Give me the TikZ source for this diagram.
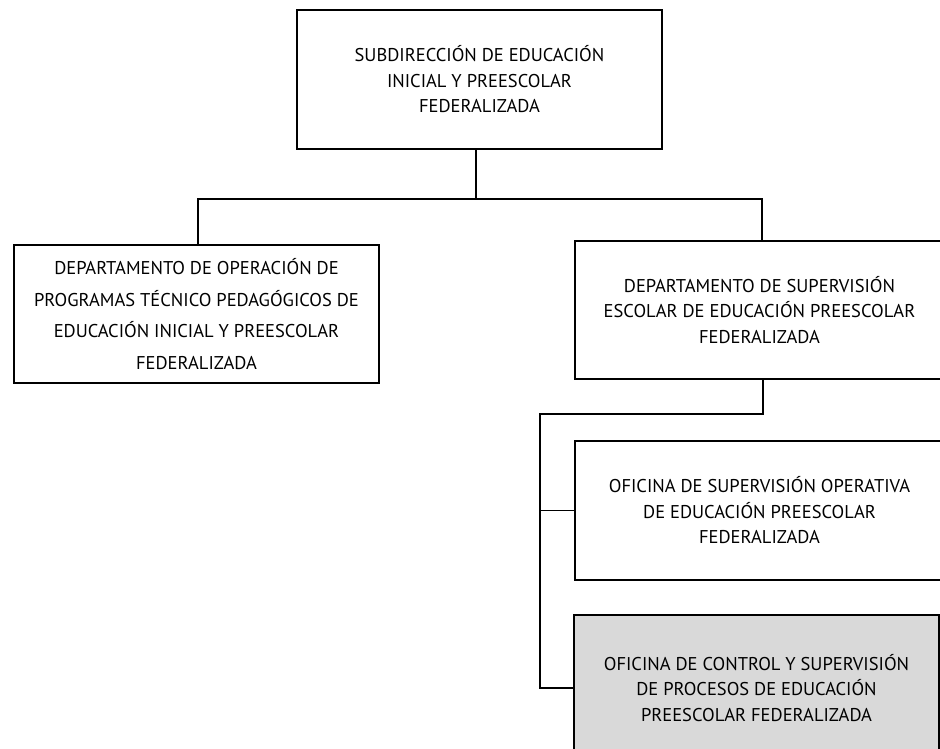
\documentclass[tikz,border=0pt]{standalone}
\usepackage{fontspec}
\setmainfont{PT Sans}
\begin{document}
\begin{tikzpicture}[x=1pt,y=-1pt,
  unit/.style={draw, line width=1.8pt, inner sep=0pt, align=center,
    font=\fontsize{18.5}{25.5}\selectfont},
  conn/.style={line width=1.8pt}]
\useasboundingbox (0,0) rectangle (940,748);
\clip (0,0) rectangle (940,748);

% Organisational units
\node[unit, minimum width=365pt, minimum height=139pt] (sub) at (479.5,79.5)
  {SUBDIRECCIÓN DE EDUCACIÓN\\INICIAL Y PREESCOLAR\\FEDERALIZADA};
\node[unit, minimum width=365pt, minimum height=138pt,
  font=\fontsize{18.5}{31.5}\selectfont] (dop) at (196.5,314)
  {DEPARTAMENTO DE OPERACIÓN DE\\PROGRAMAS TÉCNICO PEDAGÓGICOS DE\\EDUCACIÓN INICIAL Y PREESCOLAR\\FEDERALIZADA};
\node[unit, minimum width=369pt, minimum height=138pt] (dsup) at (759.5,310)
  {DEPARTAMENTO DE SUPERVISIÓN\\ESCOLAR DE EDUCACIÓN PREESCOLAR\\FEDERALIZADA};
\node[unit, minimum width=369pt, minimum height=139pt] (ofop) at (759.5,510.5)
  {OFICINA DE SUPERVISIÓN OPERATIVA\\DE EDUCACIÓN PREESCOLAR\\FEDERALIZADA};
\node[unit, fill=black!15, minimum width=365pt, minimum height=146pt] (ofcp) at (756.5,688)
  {OFICINA DE CONTROL Y SUPERVISIÓN\\DE PROCESOS DE EDUCACIÓN\\PREESCOLAR FEDERALIZADA};

% Junction points of the connector lines
\coordinate (j0) at (476,199);
\coordinate (jl) at (198,199);
\coordinate (jr) at (762,199);
\coordinate (k0) at (763,414);
\coordinate (k1) at (540,414);

% Connectors
\draw[conn] (sub.south -| j0) -- (j0);
\draw[conn] (dop.north -| jl) -- (jl) -- (jr) -- (dsup.north -| jr);
\draw[conn] (dsup.south -| k0) -- (k0) -- (k1) |- (ofcp.west);
\draw[conn] (k1 |- ofop.west) -- (ofop.west);
\end{tikzpicture}
\end{document}
